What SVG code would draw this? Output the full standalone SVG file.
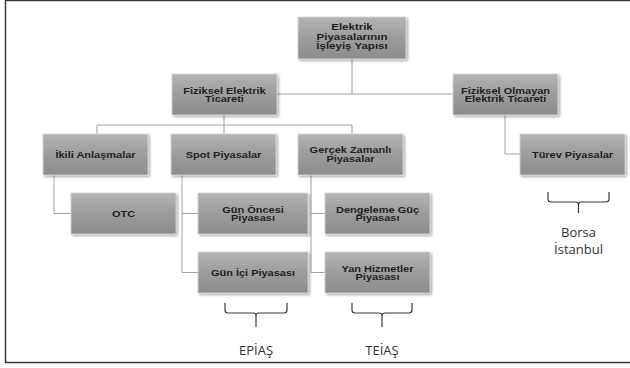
<svg xmlns="http://www.w3.org/2000/svg" width="630" height="368" viewBox="0 0 630 368">
<style>
.box{fill:url(#g);stroke:#d6d6d6;stroke-width:0.8;filter:url(#sh)}
.t{font-family:"Liberation Sans",Arial,sans-serif;font-weight:bold;font-size:11px;fill:#1e1e1e;text-anchor:middle}
.c{fill:none;stroke:#a0a0a0;stroke-width:1}
.br{fill:none;stroke:#3a3a3a;stroke-width:1.2}
.lb{font-family:"Open Sans","Liberation Sans",sans-serif;font-size:13px;fill:#333;text-anchor:middle}
</style>
<defs>
<linearGradient id="g" x1="0" y1="0" x2="0" y2="1">
<stop offset="0" stop-color="#b4b4b4"/>
<stop offset="0.5" stop-color="#9c9c9c"/>
<stop offset="1" stop-color="#8c8c8c"/>
</linearGradient>
<filter id="sh" x="-10%" y="-10%" width="125%" height="130%">
<feDropShadow dx="1.5" dy="1.5" stdDeviation="1" flood-color="#000" flood-opacity="0.35"/>
</filter>
</defs>
<rect x="5.5" y="0.5" width="640" height="362" fill="#fff" stroke="#3a3a3a" stroke-width="1.5"/>
<g id="connectors">
<path class="c" d="M352,59 V94 M277,94 H453"/>
<path class="c" d="M224,115 V134 M97,125 H352 M97,125 V134 M352,125 V134"/>
<path class="c" d="M505,115 V154 H520"/>
<path class="c" d="M54,175 V213.5 H71"/>
<path class="c" d="M182,175 V272.5 H198 M182,213.5 H198"/>
<path class="c" d="M311,175 V272.5 H325 M311,213.5 H325"/>
</g>
<g id="root"><rect class="box" x="298" y="17" width="108" height="42"/>
<text class="t" style="font-size:11.5px" transform="translate(352,30.3) scale(1,0.85)"><tspan x="0" y="0">Elektrik</tspan><tspan x="0" dy="11.2">Piyasalarının</tspan><tspan x="0" dy="11.2">İşleyiş Yapısı</tspan></text></g>
<g id="fiziksel"><rect class="box" x="172" y="74" width="105" height="41"/>
<text class="t" transform="translate(224.5,93.8) scale(1,0.85)"><tspan x="0" y="0">Fiziksel Elektrik</tspan><tspan x="0" dy="10.2">Ticareti</tspan></text></g>
<g id="fizikselOlmayan"><rect class="box" x="453" y="74" width="105" height="41"/>
<text class="t" transform="translate(505.5,93.8) scale(1,0.85)"><tspan x="0" y="0">Fiziksel Olmayan</tspan><tspan x="0" dy="10.2">Elektrik Ticareti</tspan></text></g>
<g id="ikili"><rect class="box" x="43" y="134" width="105" height="41"/>
<text class="t" transform="translate(95.5,157.8) scale(1,0.85)">İkili Anlaşmalar</text></g>
<g id="spot"><rect class="box" x="171" y="134" width="105" height="41"/>
<text class="t" transform="translate(223.5,157.8) scale(1,0.85)">Spot Piyasalar</text></g>
<g id="gercek"><rect class="box" x="298" y="134" width="105" height="41"/>
<text class="t" transform="translate(350.5,153.2) scale(1,0.85)"><tspan x="0" y="0">Gerçek Zamanlı</tspan><tspan x="0" dy="10.2">Piyasalar</tspan></text></g>
<g id="turev"><rect class="box" x="520" y="134" width="105" height="41"/>
<text class="t" transform="translate(572.5,157.8) scale(1,0.85)">Türev Piyasalar</text></g>
<g id="otc"><rect class="box" x="71" y="193" width="105" height="41"/>
<text class="t" transform="translate(123.5,216.8) scale(1,0.85)">OTC</text></g>
<g id="gunOncesi"><rect class="box" x="198" y="193" width="110" height="41"/>
<text class="t" transform="translate(253,212.5) scale(1,0.85)"><tspan x="0" y="0">Gün Öncesi</tspan><tspan x="0" dy="10.2">Piyasası</tspan></text></g>
<g id="gunIci"><rect class="box" x="198" y="252" width="110" height="41"/>
<text class="t" transform="translate(253,275.8) scale(1,0.85)">Gün İçi Piyasası</text></g>
<g id="dengeleme"><rect class="box" x="325" y="193" width="105" height="41"/>
<text class="t" transform="translate(377.5,212.5) scale(1,0.85)"><tspan x="0" y="0">Dengeleme Güç</tspan><tspan x="0" dy="10.2">Piyasası</tspan></text></g>
<g id="yanHizmetler"><rect class="box" x="325" y="252" width="105" height="41"/>
<text class="t" transform="translate(377.5,271.5) scale(1,0.85)"><tspan x="0" y="0">Yan Hizmetler</tspan><tspan x="0" dy="10.2">Piyasası</tspan></text></g>
<g id="braces">
<path class="br" d="M225,303 V310 Q225,313 228,313 H253 Q256,313 256,316 V327 M287,303 V310 Q287,313 284,313 H259 Q256,313 256,316"/>
<path class="br" d="M352,303 V310 Q352,313 355,313 H379 Q382,313 382,316 V327 M412,303 V310 Q412,313 409,313 H385 Q382,313 382,316"/>
<path class="br" d="M548,192 V199 Q548,202 551,202 H575.5 Q578.5,202 578.5,205 V213 M609,192 V199 Q609,202 606,202 H581.5 Q578.5,202 578.5,205"/>
</g>
<g id="labels">
<text class="lb" x="256" y="355">EPİAŞ</text>
<text class="lb" x="382" y="355">TEİAŞ</text>
<text class="lb" x="578.5" y="237">Borsa</text>
<text class="lb" x="578.5" y="254">İstanbul</text>
</g>
</svg>
